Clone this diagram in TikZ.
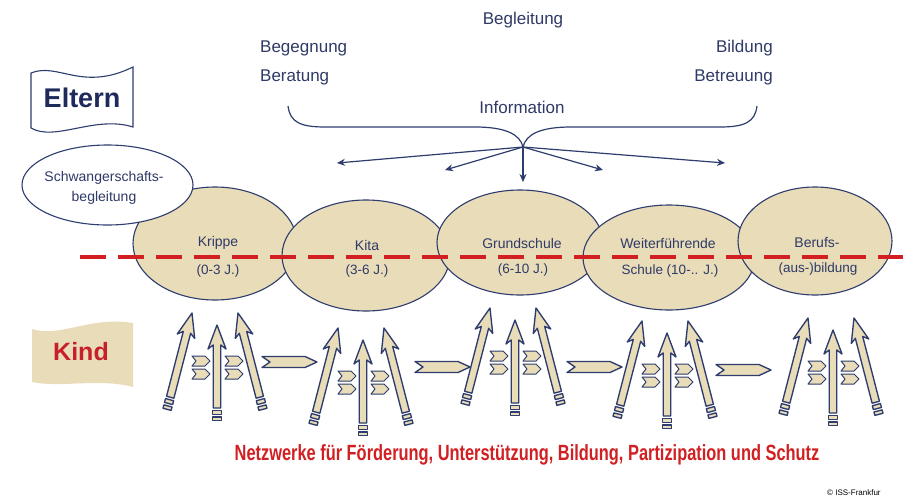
\documentclass[tikz,border=0pt]{standalone}
\usepackage{fontspec}
\usepackage{graphicx}
\setmainfont{Liberation Sans}
\usetikzlibrary{shapes.geometric,arrows.meta}
\definecolor{beige}{HTML}{E8DCB9}
\definecolor{navy}{HTML}{2E3D6E}
\definecolor{txtnavy}{HTML}{2F3A66}
\definecolor{eltnavy}{HTML}{1F2A5C}
\definecolor{dred}{HTML}{D21F22}
\definecolor{kindred}{HTML}{C8202B}
\newcommand\kidgroup[2]{%
  \begin{scope}[shift={(#1,#2)}]
    \pic at (-25,36) {chev}; \pic at (-25,49) {chev};
    \pic at (8,36) {chev};   \pic at (8,49) {chev};
    \pic[rotate=-14.5] at (-25,-12) {longarr=87};
    \pic[rotate=14.5] at (21,-12) {longarr=87};
    \pic at (0,0) {longarr=83};
  \end{scope}}
\begin{document}
\begin{tikzpicture}[x=1pt,y=-1pt,
  stage/.style={ellipse, draw=navy, line width=1.1pt, fill=beige, inner sep=0pt},
  lbl/.style={text=txtnavy, font=\fontsize{14}{16}\selectfont, inner sep=0pt},
  lbltwo/.style={text=txtnavy, font=\fontsize{13.5}{15}\selectfont, inner sep=0pt},
  toplbl/.style={text=txtnavy, font=\fontsize{17}{19}\selectfont, inner sep=0pt},
  shapeline/.style={draw=navy, fill=beige, line width=1.35pt, line join=round},
  infoarr/.style={draw=navy, line width=1.2pt, -{Stealth[length=8pt,width=7pt]}},
  pics/longarr/.style={code={
    \draw[shapeline] (0,0) -- (9,24) -- (3.8,20) -- (3.8,#1) -- (-3.8,#1) -- (-3.8,20) -- (-9,24) -- cycle;
    \draw[shapeline] (-4.2,#1+2.5) rectangle (4.2,#1+6.5);
    \draw[shapeline] (-4.2,#1+9) rectangle (4.2,#1+12.5);
  }},
  pics/chev/.style={code={
    \draw[shapeline, line width=1pt] (0,-5) -- (13,-5) -- (18,0) -- (13,5) -- (0,5) -- (4,0) -- cycle;
  }},
  pics/harr/.style={code={
    \draw[shapeline] (0,-5.5) -- (43,-5.5) -- (55,0) -- (43,5.5) -- (0,5.5) -- (8,0) -- cycle;
  }}
]
\useasboundingbox[fill=white] (0,0) rectangle (903,501);

% top labels
\node[toplbl] (begleitung) at (523,20) {Begleitung};
\node[toplbl, anchor=west] (begegnung) at (260,48) {Begegnung};
\node[toplbl, anchor=west] (beratung) at (260,77) {Beratung};
\node[toplbl, anchor=east] (bildung) at (773,48) {Bildung};
\node[toplbl, anchor=east] (betreuung) at (773,77) {Betreuung};
\node[toplbl] (information) at (522,107) {Information};

% brace
\coordinate (bl) at (288,106);
\coordinate (br) at (757,106);
\coordinate (bp) at (523,147);
\draw[navy, line width=1.2pt] (bl) .. controls (290,122) and (300,127) .. (325,127) -- (475,127)
  .. controls (505,127) and (520,134) .. (bp)
  .. controls (526,134) and (541,127) .. (571,127) -- (720,127)
  .. controls (745,127) and (755,122) .. (br);
\coordinate (i1) at (337,163);
\coordinate (i2) at (445,170);
\coordinate (i3) at (523,182);
\coordinate (i4) at (603,170);
\coordinate (i5) at (725,163);
\foreach \t in {i1,i2,i3,i4,i5} \draw[infoarr] (bp) -- (\t);

% Eltern flag
\draw[navy, fill=white, line width=1.1pt] (31,73) .. controls (58,62) and (82,92) .. (133,67)
  -- (133,127) .. controls (95,115) and (55,142) .. (31,128) -- cycle;
\node[text=eltnavy, font=\bfseries\fontsize{27}{30}\selectfont, inner sep=0pt] (eltern) at (82,98) {Eltern};

% Kind flag
\fill[beige] (32,329) .. controls (60,338) and (90,316) .. (133,323)
  -- (133,387) .. controls (100,378) and (60,388) .. (32,382) -- cycle;
\node[text=kindred, font=\bfseries\fontsize{25}{28}\selectfont, inner sep=0pt] (kind) at (81,352) {Kind};

% stages
\node[stage, minimum width=164pt, minimum height=113pt] (krippe) at (215,243.5) {};
\node[stage, minimum width=168pt, minimum height=111pt] (kita) at (366,255.5) {};
\node[stage, minimum width=166pt, minimum height=105pt] (grund) at (520,242.5) {};
\node[stage, minimum width=172pt, minimum height=105pt] (weiter) at (669,257.5) {};
\node[stage, minimum width=154pt, minimum height=108pt] (beruf) at (815,241) {};
\node[ellipse, draw=navy, line width=1.1pt, fill=white, minimum width=171pt, minimum height=80pt] (schwanger) at (107.5,185) {};

\node[lbl] (t1) at (104,178) {Schwangerschafts-};
\node[lbl] (t2) at (104,198) {begleitung};
\node[lbl] (k1) at (218,243) {Krippe};
\node[lbltwo] (k2) at (218,271) {(0-3 J.)};
\node[lbl] (ki1) at (367,245) {Kita};
\node[lbltwo] (ki2) at (367,271) {(3-6 J.)};
\node[lbl] (g1) at (522,243) {Grundschule};
\node[lbltwo] (g2) at (523,270) {(6-10 J.)};
\node[lbl] (w1) at (668,243) {Weiterführende};
\node[lbltwo] (w2) at (670,271) {Schule (10-.. J.)};
\node[lbl] (b1) at (817,242) {Berufs-};
\node[lbltwo] (b2) at (818,269) {(aus-)bildung};

% dashed line
\coordinate (dl) at (80,257);
\coordinate (dr) at (903,257);
\draw[dred, line width=3.2pt, dash pattern=on 26pt off 12pt] (dl) -- (dr);

% arrow groups
\kidgroup{217}{325}
\kidgroup{363}{340}
\kidgroup{515}{320}
\kidgroup{667}{333}
\kidgroup{833}{330}

\pic at (262,362) {harr};
\pic at (415,367) {harr};
\pic at (567,367) {harr};
\pic at (716,370) {harr};

% bottom text
\node[text=dred, font=\bfseries\fontsize{22}{24}\selectfont, inner sep=0pt] (netz) at (527,455)
  {\scalebox{0.745}[1]{Netzwerke für Förderung, Unterstützung, Bildung, Partizipation und Schutz}};
\node[anchor=west, text=black, font=\fontsize{8}{9}\selectfont, inner sep=0pt] (copy) at (827,493) {© ISS-Frankfur};
\end{tikzpicture}
\end{document}
